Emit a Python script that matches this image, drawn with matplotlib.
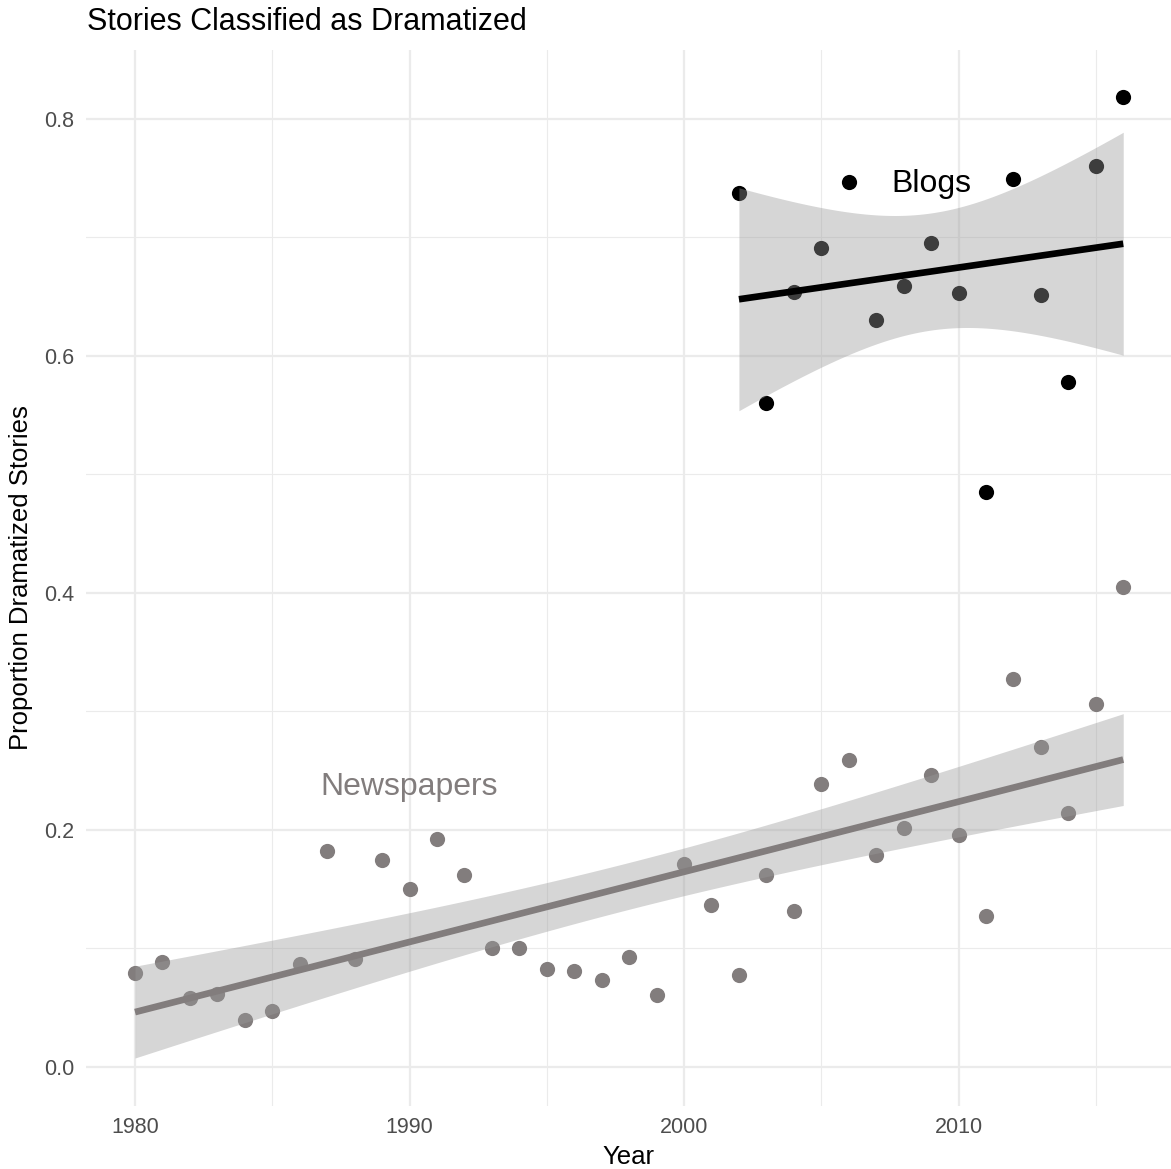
import matplotlib
matplotlib.use("Agg")
import matplotlib.pyplot as plt
import numpy as np

plt.rcParams['font.family'] = ['Liberation Sans', 'DejaVu Sans']

# newspapers, one value per year
news_years = np.arange(1980, 2017)
news_vals = [0.079, 0.089, 0.058, 0.062, 0.040, 0.047, 0.087, 0.182, 0.091, 0.175,
             0.150, 0.192, 0.162, 0.100, 0.100, 0.083, 0.081, 0.073, 0.093, 0.061,
             0.171, 0.137, 0.078, 0.162, 0.132, 0.239, 0.259, 0.179, 0.202, 0.246,
             0.196, 0.127, 0.327, 0.270, 0.214, 0.306, 0.405]

# blogs
blog_years = np.arange(2002, 2017)
blog_vals = [0.737, 0.560, 0.654, 0.691, 0.747, 0.630, 0.659, 0.695, 0.653, 0.485,
             0.749, 0.651, 0.578, 0.760, 0.818]

NEWS_COL = '#827d7d'
BLOG_COL = '#000000'


def lm_band(x, y, tcrit, n=80):
    # linear fit with 95% confidence band, like geom_smooth(method='lm')
    x = np.asarray(x, float); y = np.asarray(y, float)
    b, a = np.polyfit(x, y, 1)
    resid = y - (a + b*x)
    s = np.sqrt(np.sum(resid**2)/(len(x)-2))
    xs = np.linspace(x.min(), x.max(), n)
    se = s*np.sqrt(1/len(x) + (xs-x.mean())**2/np.sum((x-x.mean())**2))
    fit = a + b*xs
    return xs, fit, fit - tcrit*se, fit + tcrit*se


fig = plt.figure(figsize=(11.71, 11.69), dpi=100)
ax = fig.add_axes([85.6/1171, 63/1169, 1-85.6/1171, (1106-50)/1169])

ax.scatter(news_years, news_vals, s=120, color=NEWS_COL, zorder=2, linewidths=0)
ax.scatter(blog_years, blog_vals, s=120, color=BLOG_COL, zorder=2, linewidths=0)

for yrs, vals, col, t in [(news_years, news_vals, NEWS_COL, 2.030),
                          (blog_years, blog_vals, BLOG_COL, 2.160)]:
    xs, fit, lo, hi = lm_band(yrs, vals, t)
    ax.fill_between(xs, lo, hi, color='#999999', alpha=0.4, linewidth=0, zorder=3)
    ax.plot(xs, fit, color=col, lw=4.8, zorder=4, solid_capstyle='butt')

ax.text(2009, 0.745, 'Blogs', color=BLOG_COL, fontsize=23, ha='center', va='center')
ax.text(1990, 0.236, 'Newspapers', color=NEWS_COL, fontsize=23, ha='center', va='center')

ax.set_xlim(1978.2, 2017.74)
ax.set_ylim(-0.0329, 0.858)
ax.set_xticks([1980, 1990, 2000, 2010])
ax.set_xticks([1985, 1995, 2005, 2015], minor=True)
ax.set_yticks([0.0, 0.2, 0.4, 0.6, 0.8])
ax.set_yticks([0.1, 0.3, 0.5, 0.7], minor=True)
ax.set_yticklabels(['0.0', '0.2', '0.4', '0.6', '0.8'])
ax.grid(which='major', color='#ebebeb', lw=1.6, zorder=0)
ax.grid(which='minor', color='#ebebeb', lw=0.8, zorder=0)
ax.set_axisbelow(True)
for sp in ax.spines.values():
    sp.set_visible(False)
ax.tick_params(which='both', length=0, labelsize=15.5, labelcolor='#4d4d4d', pad=8)

ax.set_xlabel('Year', fontsize=18.5, labelpad=5)
ax.set_ylabel('Proportion Dramatized Stories', fontsize=18.5, labelpad=8)
fig.text(87/1171, 1-22/1169, 'Stories Classified as Dramatized', fontsize=22,
         ha='left', va='center')

fig.savefig('out.png', dpi=100)
